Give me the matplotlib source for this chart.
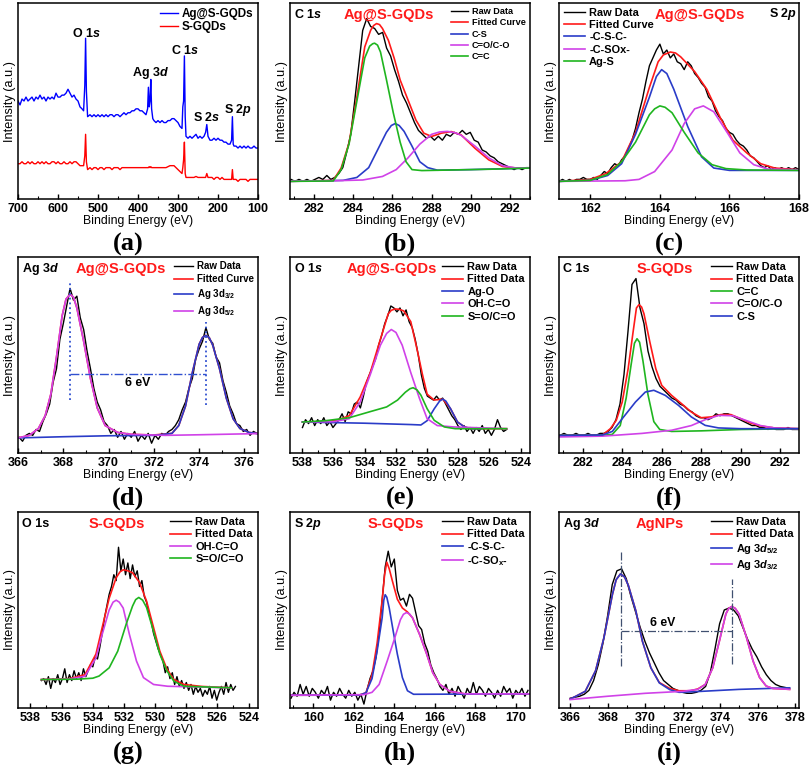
import numpy as np
import matplotlib
matplotlib.use("Agg")
import matplotlib.pyplot as plt
from matplotlib.ticker import MultipleLocator

plt.rcParams["font.family"] = ["Liberation Sans", "DejaVu Sans"]
plt.rcParams["font.weight"] = "bold"
plt.rcParams["mathtext.fontset"] = "custom"
plt.rcParams["mathtext.rm"] = "Liberation Sans:bold"
plt.rcParams["mathtext.it"] = "Liberation Sans:italic:bold"
plt.rcParams["mathtext.bf"] = "Liberation Sans:bold"
plt.rcParams["mathtext.default"] = "rm"

RED = "#ff1a1a"
BLUE = "#2a3cc8"
MAG = "#d042e8"
GREEN = "#1fb51f"

# ---------------- (a) survey ----------------
surv_E = np.r_[700:544:-5, 540, 536, 533, 531, 529, 526, 520:379:-5,
               376, 374, 372, 370, 368, 366, 363, 360:289:-5,
               288, 286, 284, 282, 280, 275:234:-5, 231, 228, 225,
               220:169:-5, 166, 164, 162, 160:99:-5]
surv_ag = [0.50, 0.48, 0.51, 0.50, 0.52, 0.50, 0.51, 0.52, 0.50, 0.52, 0.51, 0.53, 0.51, 0.52, 0.50, 0.52,
           0.51, 0.52, 0.51, 0.54, 0.52, 0.52, 0.53, 0.53, 0.54, 0.56, 0.54, 0.52, 0.53, 0.51, 0.50, 0.47,
           0.46, 0.45, 0.58, 0.82, 0.55, 0.42,
           0.43, 0.42, 0.43, 0.42, 0.43, 0.42, 0.43, 0.42, 0.43, 0.42, 0.43, 0.43, 0.42, 0.43, 0.43,
           0.42, 0.43, 0.44, 0.43, 0.44, 0.44, 0.45, 0.45, 0.46, 0.46, 0.45, 0.45, 0.44, 0.43,
           0.46, 0.57, 0.47, 0.50, 0.61, 0.46, 0.41,
           0.40, 0.39, 0.40, 0.39, 0.40, 0.39, 0.39, 0.40, 0.40, 0.41, 0.41, 0.40, 0.39, 0.37, 0.36,
           0.47, 0.50, 0.73, 0.42, 0.32,
           0.31, 0.32, 0.31, 0.32, 0.33, 0.31, 0.32, 0.31, 0.32,
           0.34, 0.38, 0.32,
           0.30, 0.30, 0.31, 0.30, 0.31, 0.30, 0.30, 0.29, 0.29, 0.28, 0.28,
           0.30, 0.42, 0.28,
           0.27, 0.27, 0.26, 0.27, 0.26, 0.27, 0.26, 0.27, 0.26, 0.26, 0.27, 0.26, 0.26]
surv_s = [0.18, 0.18, 0.19, 0.18, 0.18, 0.19, 0.18, 0.19, 0.18, 0.18, 0.19, 0.18, 0.19, 0.18, 0.19, 0.18,
          0.18, 0.19, 0.19, 0.18, 0.19, 0.18, 0.18, 0.19, 0.18, 0.18, 0.19, 0.18, 0.19, 0.19, 0.18, 0.17,
          0.17, 0.17, 0.22, 0.33, 0.19, 0.15,
          0.16, 0.15, 0.16, 0.16, 0.15, 0.16, 0.16, 0.15, 0.16, 0.16, 0.16, 0.15, 0.16, 0.16, 0.16,
          0.15, 0.16, 0.16, 0.16, 0.16, 0.16, 0.16, 0.16, 0.16, 0.16, 0.16, 0.16, 0.16, 0.16,
          0.16, 0.16, 0.165, 0.16, 0.165, 0.16, 0.16,
          0.16, 0.16, 0.16, 0.16, 0.16, 0.16, 0.16, 0.165, 0.17, 0.17, 0.17, 0.16, 0.15, 0.14, 0.13,
          0.16, 0.20, 0.29, 0.13, 0.11,
          0.11, 0.11, 0.11, 0.11, 0.115, 0.11, 0.11, 0.11, 0.11,
          0.11, 0.13, 0.11,
          0.11, 0.11, 0.10, 0.11, 0.11, 0.10, 0.11, 0.10, 0.10, 0.10, 0.10,
          0.10, 0.15, 0.10,
          0.10, 0.10, 0.09, 0.10, 0.10, 0.10, 0.10, 0.09, 0.10, 0.10, 0.10, 0.10, 0.10]
surv_peaks = ["O 1$\\mathit{s}$", "Ag 3$\\mathit{d}$", "C 1$\\mathit{s}$", "S 2$\\mathit{s}$", "S 2$\\mathit{p}$"]
surv_peak_E = [529, 369, 281.7, 227.5, 150]
surv_peak_I = [0.845, 0.645, 0.757, 0.418, 0.455]

# ---------------- (b) C 1s Ag@S-GQDs ----------------
b_raw_range = (280.85, 293.0)
b_raw = [0.10, 0.09, 0.10, 0.09, 0.10, 0.09, 0.10, 0.11, 0.10, 0.12,
         0.10, 0.11, 0.13, 0.16, 0.24, 0.33, 0.50, 0.68, 0.86, 0.92,
         0.88, 0.87, 0.84, 0.85, 0.77, 0.73, 0.66, 0.60, 0.53, 0.49,
         0.44, 0.39, 0.35, 0.33, 0.31, 0.32, 0.30, 0.32, 0.30, 0.33,
         0.32, 0.34, 0.33, 0.35, 0.33, 0.34, 0.30, 0.29, 0.25, 0.24,
         0.22, 0.21, 0.19, 0.18, 0.17, 0.16, 0.15, 0.16, 0.15, 0.16, 0.16]
b_fit = [(280.8, 0.09), (283.0, 0.095), (283.4, 0.158), (283.8, 0.285), (284.2, 0.52), (284.6, 0.776),
         (284.9, 0.861), (285.05, 0.885), (285.2, 0.895), (285.35, 0.89), (285.5, 0.87), (285.8, 0.81),
         (286.1, 0.717), (286.4, 0.607),
         (286.8, 0.505), (287.2, 0.403), (287.6, 0.336), (288.0, 0.319), (288.5, 0.336), (289.0, 0.344),
         (289.5, 0.327), (290.2, 0.259), (290.9, 0.2), (291.6, 0.166), (292.3, 0.158), (293.0, 0.158)]
b_cs = [(280.8, 0.09), (283.5, 0.095), (284.2, 0.11), (284.8, 0.16), (285.3, 0.26), (285.7, 0.34),
        (285.95, 0.375), (286.15, 0.385), (286.35, 0.375), (286.6, 0.345), (287.0, 0.27), (287.4, 0.19),
        (287.8, 0.16), (288.3, 0.147), (290.0, 0.15), (293.0, 0.158)]
b_co = [(280.8, 0.092), (283.0, 0.093), (284.5, 0.097), (285.5, 0.115), (286.2, 0.15), (286.8, 0.21),
        (287.4, 0.28), (288.0, 0.33), (288.4, 0.342), (288.8, 0.345), (289.2, 0.338), (289.5, 0.325),
        (290.2, 0.27), (290.9, 0.21), (291.6, 0.17), (292.3, 0.158), (293.0, 0.158)]
b_cc = [(280.8, 0.09), (283.0, 0.092), (283.4, 0.15), (283.8, 0.28), (284.2, 0.50), (284.6, 0.72),
        (284.85, 0.78), (285.0, 0.792), (285.1, 0.795), (285.25, 0.785), (285.4, 0.75), (285.7, 0.61),
        (286.05, 0.44), (286.4, 0.29),
        (286.7, 0.19), (287.0, 0.15), (287.5, 0.145), (289.0, 0.148), (291.0, 0.152), (293.0, 0.158)]

# ---------------- (c) S 2p Ag@S-GQDs ----------------
c_raw_range = (161.1, 168.0)
c_raw = [0.09, 0.10, 0.09, 0.10, 0.09, 0.10, 0.10, 0.11, 0.10, 0.10,
         0.11, 0.10, 0.12, 0.14, 0.13, 0.16, 0.18, 0.17, 0.20, 0.22,
         0.26, 0.30, 0.36, 0.44, 0.51, 0.60, 0.68, 0.72, 0.76, 0.79,
         0.74, 0.76, 0.72, 0.74, 0.70, 0.69, 0.66, 0.70, 0.68, 0.64,
         0.62, 0.59, 0.57, 0.52, 0.50, 0.45, 0.42, 0.40, 0.36, 0.34,
         0.33, 0.30, 0.28, 0.27, 0.25, 0.22, 0.21, 0.19, 0.17, 0.16,
         0.17, 0.15, 0.16, 0.15, 0.16, 0.15, 0.16, 0.15, 0.16, 0.15]
c_fit = [(161.1, 0.09), (162.0, 0.10), (162.45, 0.13), (162.9, 0.19), (163.3, 0.34), (163.7, 0.57),
         (163.95, 0.70), (164.1, 0.735), (164.3, 0.75), (164.45, 0.745), (164.6, 0.725), (165.0, 0.65),
         (165.35, 0.56), (165.75, 0.41),
         (166.1, 0.30), (166.5, 0.235), (166.9, 0.18), (167.3, 0.158), (168.0, 0.149)]
c_csc = [(161.1, 0.09), (162.0, 0.095), (162.5, 0.12), (162.9, 0.18), (163.3, 0.33), (163.7, 0.52),
         (163.9, 0.625), (164.05, 0.66), (164.2, 0.64), (164.4, 0.56), (164.8, 0.37), (165.2, 0.215),
         (165.55, 0.158), (166.0, 0.146), (168.0, 0.146)]
c_sox = [(161.1, 0.09), (163.0, 0.093), (163.4, 0.10), (163.85, 0.14), (164.35, 0.25), (164.7, 0.385),
         (165.0, 0.46), (165.25, 0.475), (165.55, 0.445), (165.95, 0.335), (166.3, 0.235), (166.7, 0.175),
         (167.1, 0.153), (168.0, 0.149)]
c_ags = [(161.1, 0.09), (162.0, 0.095), (162.5, 0.125), (162.9, 0.19), (163.3, 0.29), (163.7, 0.43),
         (163.85, 0.46), (164.0, 0.475), (164.15, 0.468), (164.35, 0.44), (164.7, 0.34), (165.1, 0.235),
         (165.5, 0.175), (165.9, 0.155), (166.5, 0.148), (168.0, 0.146)]

# ---------------- (d) Ag 3d Ag@S-GQDs ----------------
d_raw_range = (366.05, 376.55)
d_raw = [0.08, 0.06, 0.09, 0.10, 0.09, 0.12, 0.11, 0.16, 0.20, 0.25,
         0.36, 0.43, 0.58, 0.66, 0.75, 0.84, 0.78, 0.80, 0.69, 0.63,
         0.52, 0.43, 0.33, 0.26, 0.22, 0.16, 0.14, 0.10, 0.12, 0.08,
         0.11, 0.07, 0.10, 0.08, 0.11, 0.06, 0.09, 0.07, 0.10, 0.05,
         0.09, 0.07, 0.10, 0.09, 0.11, 0.12, 0.14, 0.17, 0.22, 0.26,
         0.33, 0.38, 0.48, 0.53, 0.57, 0.64, 0.58, 0.56, 0.49, 0.46,
         0.37, 0.31, 0.24, 0.20, 0.15, 0.14, 0.11, 0.12, 0.09, 0.11, 0.10]
d_fit = [(366.0, 0.077), (366.5, 0.09), (366.9, 0.125), (367.2, 0.19), (367.45, 0.30), (367.7, 0.49),
         (367.95, 0.70), (368.12, 0.785), (368.3, 0.81), (368.45, 0.795), (368.6, 0.74), (368.9, 0.57),
         (369.2, 0.38), (369.5, 0.23),
         (369.85, 0.14), (370.4, 0.105), (371.0, 0.095), (372.0, 0.092), (372.8, 0.10), (373.1, 0.14),
         (373.4, 0.24), (373.7, 0.41), (374.0, 0.555), (374.15, 0.59), (374.3, 0.60), (374.45, 0.588),
         (374.6, 0.55), (374.9, 0.43),
         (375.2, 0.28), (375.5, 0.175), (375.8, 0.125), (376.2, 0.105), (376.6, 0.099)]
d_32 = [(366.0, 0.077), (368.0, 0.083), (370.0, 0.088), (372.0, 0.09), (372.8, 0.10), (373.1, 0.14),
        (373.4, 0.24), (373.7, 0.41), (374.0, 0.555), (374.15, 0.59), (374.3, 0.60), (374.45, 0.588),
        (374.6, 0.55), (374.9, 0.43),
        (375.2, 0.28), (375.5, 0.175), (375.8, 0.125), (376.2, 0.105), (376.6, 0.099)]
d_52 = [(366.0, 0.077), (366.5, 0.09), (366.9, 0.125), (367.2, 0.19), (367.45, 0.30), (367.7, 0.49),
        (367.95, 0.70), (368.12, 0.785), (368.3, 0.81), (368.45, 0.795), (368.6, 0.74), (368.9, 0.57),
        (369.2, 0.38), (369.5, 0.23),
        (369.85, 0.14), (370.4, 0.105), (371.0, 0.095), (372.5, 0.09), (374.0, 0.093), (376.6, 0.099)]
d_peak_E = [368.3, 374.3]
d_peak_top = [0.88, 0.668]
d_peak_bot = [0.269, 0.243]
d_split_level = 0.405

# ---------------- (e) O 1s Ag@S-GQDs ----------------
e_raw_range = (538.0, 524.9)
e_raw = [0.13, 0.17, 0.15, 0.18, 0.14, 0.17, 0.15, 0.18, 0.14, 0.16,
         0.13, 0.15, 0.17, 0.20, 0.16, 0.21, 0.20, 0.25, 0.26, 0.23,
         0.29, 0.36, 0.40, 0.44, 0.48, 0.55, 0.60, 0.66, 0.70, 0.75,
         0.74, 0.72, 0.74, 0.70, 0.73, 0.67, 0.64, 0.58, 0.50, 0.40,
         0.33, 0.29, 0.28, 0.27, 0.29, 0.27, 0.28, 0.25, 0.22, 0.19,
         0.17, 0.14, 0.12, 0.14, 0.11, 0.13, 0.10, 0.13, 0.11, 0.14,
         0.10, 0.12, 0.09, 0.12, 0.17, 0.13, 0.11, 0.12]
e_fit = [(538.0, 0.158), (536.5, 0.16), (535.8, 0.167), (535.0, 0.19), (534.3, 0.285), (533.65, 0.41),
         (533.0, 0.58), (532.5, 0.71), (532.3, 0.728), (532.05, 0.735), (531.8, 0.733), (531.5, 0.725),
         (531.05, 0.67), (530.65, 0.53),
         (530.3, 0.40), (530.0, 0.30), (529.55, 0.27), (529.0, 0.275), (528.5, 0.226), (528.05, 0.158),
         (527.6, 0.133), (527.2, 0.124), (524.9, 0.124)]
e_ago = [(538.0, 0.158), (534.0, 0.152), (531.0, 0.145), (530.4, 0.143), (530.0, 0.165), (529.55, 0.225),
         (529.2, 0.265), (529.0, 0.275), (528.8, 0.265), (528.5, 0.226), (528.05, 0.158), (527.6, 0.133),
         (527.2, 0.124), (526.5, 0.124)]
e_ohco = [(538.0, 0.158), (536.0, 0.16), (535.0, 0.175), (534.3, 0.26), (533.65, 0.40), (533.0, 0.55),
          (532.6, 0.61), (532.3, 0.63), (532.0, 0.615), (531.6, 0.55), (531.05, 0.41), (530.5, 0.28),
          (530.0, 0.175), (529.35, 0.14), (528.3, 0.133), (524.9, 0.124)]
e_soco = [(538.0, 0.158), (536.5, 0.165), (535.0, 0.18), (533.7, 0.21), (532.6, 0.235), (531.9, 0.27),
          (531.4, 0.31), (531.1, 0.328), (530.9, 0.333), (530.65, 0.322), (530.4, 0.295), (530.0, 0.226),
          (529.55, 0.167), (528.9, 0.133), (528.2, 0.124), (524.9, 0.124)]

# ---------------- (f) C 1s S-GQDs ----------------
f_raw_range = (280.85, 293.0)
f_raw = [0.09, 0.10, 0.09, 0.09, 0.10, 0.09, 0.09, 0.10, 0.09, 0.09,
         0.10, 0.10, 0.11, 0.13, 0.17, 0.25, 0.40, 0.62, 0.86, 0.89,
         0.74, 0.66, 0.52, 0.44, 0.38, 0.34, 0.32, 0.30, 0.28, 0.27,
         0.25, 0.24, 0.22, 0.21, 0.19, 0.18, 0.18, 0.17, 0.18, 0.20,
         0.19, 0.20, 0.20, 0.19, 0.18, 0.17, 0.16, 0.15, 0.14, 0.14,
         0.13, 0.13, 0.12, 0.13, 0.12, 0.12, 0.12, 0.13, 0.12, 0.12, 0.12]
f_fit = [(280.8, 0.09), (283.0, 0.092), (283.4, 0.124), (283.7, 0.167), (284.0, 0.26), (284.3, 0.43),
         (284.55, 0.617), (284.72, 0.74), (284.85, 0.757), (284.98, 0.745), (285.1, 0.711), (285.4, 0.566),
         (285.7, 0.43), (286.0, 0.345),
         (286.5, 0.294), (287.0, 0.252), (287.5, 0.209), (288.0, 0.18), (288.5, 0.184), (289.0, 0.196),
         (289.5, 0.196), (290.0, 0.175), (290.5, 0.153), (291.0, 0.138), (291.7, 0.128), (292.95, 0.124)]
f_cc = [(280.8, 0.09), (283.0, 0.09), (283.5, 0.095), (283.9, 0.14), (284.2, 0.28), (284.45, 0.45),
        (284.62, 0.56), (284.75, 0.583), (284.88, 0.565), (285.05, 0.47), (285.3, 0.30), (285.6, 0.16),
        (285.9, 0.12), (286.5, 0.11), (288.0, 0.113), (290.0, 0.12), (292.95, 0.124)]
f_co = [(280.8, 0.082), (283.0, 0.086), (285.0, 0.10), (286.5, 0.116), (287.5, 0.14), (288.2, 0.17),
        (288.9, 0.192), (289.6, 0.19), (290.3, 0.165), (291.0, 0.14), (291.7, 0.128), (292.95, 0.124)]
f_cs = [(280.8, 0.09), (283.0, 0.092), (283.5, 0.11), (284.0, 0.175), (284.67, 0.26), (285.17, 0.311),
        (285.6, 0.32), (286.18, 0.294), (286.85, 0.243), (287.5, 0.184), (288.2, 0.141), (288.87, 0.128),
        (290.0, 0.124), (292.95, 0.124)]

# ---------------- (g) O 1s S-GQDs ----------------
g_raw_range = (537.3, 524.85)
g_raw = [0.14, 0.15, 0.12, 0.16, 0.10, 0.15, 0.13, 0.17, 0.12, 0.15,
         0.20, 0.13, 0.17, 0.14, 0.19, 0.15, 0.18, 0.14, 0.20, 0.16,
         0.19, 0.22, 0.21, 0.26, 0.25, 0.31, 0.38, 0.46, 0.52, 0.58,
         0.62, 0.68, 0.65, 0.82, 0.70, 0.76, 0.68, 0.74, 0.66, 0.73,
         0.67, 0.70, 0.62, 0.65, 0.57, 0.54, 0.48, 0.44, 0.38, 0.34,
         0.30, 0.27, 0.24, 0.18, 0.21, 0.15, 0.18, 0.12, 0.16, 0.11,
         0.14, 0.10, 0.13, 0.09, 0.12, 0.07, 0.11, 0.08, 0.10, 0.06,
         0.09, 0.07, 0.11, 0.05, 0.09, 0.04, 0.08, 0.11, 0.07, 0.13,
         0.08, 0.12, 0.09, 0.11]
g_fit = [(537.3, 0.145), (535.5, 0.15), (534.5, 0.17), (533.8, 0.275), (533.4, 0.41), (532.95, 0.56),
         (532.5, 0.665), (532.25, 0.695), (532.05, 0.705), (531.75, 0.70), (531.45, 0.69), (531.0, 0.64),
         (530.55, 0.545), (530.1, 0.41),
         (529.7, 0.29), (529.25, 0.20), (528.8, 0.145), (528.15, 0.12), (527.0, 0.11), (525.1, 0.103)]
g_ohco = [(537.3, 0.145), (535.5, 0.148), (534.5, 0.162), (533.8, 0.255), (533.4, 0.375), (532.95, 0.50),
          (532.7, 0.54), (532.5, 0.55), (532.3, 0.54), (532.05, 0.51), (531.65, 0.375), (531.2, 0.24),
          (530.75, 0.155), (530.1, 0.12), (529.2, 0.111), (525.1, 0.103)]
g_soco = [(537.3, 0.145), (535.0, 0.147), (534.0, 0.152), (533.6, 0.163), (532.95, 0.205), (532.4, 0.29),
          (531.85, 0.43), (531.45, 0.52), (531.25, 0.553), (531.05, 0.564), (530.8, 0.55), (530.55, 0.513),
          (530.1, 0.39), (529.7, 0.275), (529.25, 0.19), (528.8, 0.137), (528.15, 0.111), (525.1, 0.103)]

# ---------------- (h) S 2p S-GQDs ----------------
h_raw_range = (158.9, 170.6)
h_raw = [0.05, 0.08, 0.06, 0.12, 0.07, 0.11, 0.06, 0.10, 0.08, 0.05,
         0.09, 0.07, 0.11, 0.04, 0.08, 0.06, 0.10, 0.07, 0.05, 0.09,
         0.06, 0.08, 0.04, 0.07, 0.02, 0.09, 0.15, 0.19, 0.26, 0.38,
         0.55, 0.72, 0.80, 0.72, 0.76, 0.60, 0.55, 0.56, 0.52, 0.58,
         0.56, 0.49, 0.42, 0.40, 0.33, 0.29, 0.22, 0.18, 0.15, 0.11,
         0.09, 0.12, 0.07, 0.10, 0.06, 0.11, 0.08, 0.05, 0.10, 0.07,
         0.13, 0.07, 0.11, 0.09, 0.06, 0.10, 0.08, 0.05, 0.09, 0.06,
         0.11, 0.08, 0.10, 0.05, 0.09, 0.07, 0.10, 0.06, 0.09]
h_fit = [(158.85, 0.065), (162.3, 0.066), (162.6, 0.078), (162.9, 0.17), (163.15, 0.33), (163.4, 0.55),
         (163.52, 0.68), (163.63, 0.744), (163.75, 0.71), (163.9, 0.65), (164.15, 0.555), (164.4, 0.51),
         (164.65, 0.49), (164.9, 0.46),
         (165.25, 0.375), (165.6, 0.275), (165.9, 0.18), (166.25, 0.12), (166.75, 0.085), (167.5, 0.072),
         (170.7, 0.072)]
h_csc = [(158.85, 0.065), (162.3, 0.066), (162.6, 0.078), (162.9, 0.15), (163.15, 0.29), (163.4, 0.46),
         (163.48, 0.55), (163.55, 0.578), (163.63, 0.565), (163.75, 0.51), (163.95, 0.39), (164.15, 0.275),
         (164.4, 0.155), (164.65, 0.088), (164.95, 0.07), (170.7, 0.072)]
h_sox = [(158.85, 0.065), (162.5, 0.068), (162.9, 0.08), (163.25, 0.12), (163.65, 0.24), (164.0, 0.35),
         (164.3, 0.45), (164.45, 0.478), (164.6, 0.487), (164.75, 0.48), (164.9, 0.46), (165.25, 0.375),
         (165.6, 0.275), (165.9, 0.18), (166.25, 0.12), (166.75, 0.085), (167.5, 0.072), (170.7, 0.072)]

# ---------------- (i) Ag 3d AgNPs ----------------
i_raw_range = (366.0, 377.7)
i_raw = [0.05, 0.055, 0.06, 0.07, 0.09, 0.14, 0.22, 0.33, 0.47, 0.63,
         0.70, 0.71, 0.66, 0.57, 0.49, 0.41, 0.34, 0.28, 0.23, 0.18,
         0.14, 0.12, 0.10, 0.09, 0.08, 0.075, 0.075, 0.08, 0.09, 0.11,
         0.18, 0.30, 0.43, 0.50, 0.51, 0.50, 0.47, 0.41, 0.35, 0.30,
         0.26, 0.21, 0.17, 0.14, 0.12, 0.11, 0.105, 0.10]
i_fit = [(366.0, 0.046), (366.3, 0.06), (366.8, 0.085), (367.35, 0.19), (367.8, 0.36), (368.25, 0.58),
         (368.45, 0.655), (368.68, 0.684), (368.9, 0.668), (369.1, 0.625), (369.5, 0.495), (369.85, 0.34),
         (370.3, 0.205), (370.75, 0.13),
         (371.3, 0.1), (371.8, 0.088), (372.4, 0.088), (372.8, 0.097), (373.2, 0.12), (373.6, 0.205),
         (373.95, 0.34), (374.3, 0.48), (374.45, 0.508), (374.62, 0.518), (374.8, 0.508), (375.0, 0.48),
         (375.4, 0.36), (375.75, 0.24),
         (376.1, 0.155), (376.45, 0.112), (376.8, 0.1), (377.7, 0.095)]
i_52 = [(366.0, 0.046), (366.3, 0.06), (366.8, 0.085), (367.35, 0.19), (367.8, 0.36), (368.25, 0.58),
        (368.45, 0.655), (368.68, 0.684), (368.9, 0.668), (369.1, 0.625), (369.5, 0.495), (369.85, 0.34),
        (370.3, 0.205), (370.75, 0.128),
        (371.3, 0.094), (371.8, 0.08), (373.0, 0.085), (375.0, 0.095), (377.7, 0.103)]
i_32 = [(366.0, 0.043), (368.0, 0.06), (370.0, 0.075), (372.0, 0.085), (372.8, 0.095), (373.2, 0.12),
        (373.6, 0.205), (373.95, 0.34), (374.3, 0.48), (374.45, 0.508), (374.62, 0.518), (374.8, 0.508),
        (375.0, 0.48), (375.4, 0.36),
        (375.75, 0.24), (376.1, 0.155), (376.45, 0.112), (376.8, 0.1), (377.7, 0.095)]
i_peak_E = [368.7, 374.6]
i_peak_top = [0.807, 0.658]
i_peak_bot = [0.214, 0.222]
i_split_level = 0.393

# ---------------- layout ----------------
W, H = 810, 765
fig = plt.figure(figsize=(W / 100, H / 100), dpi=100)
col_left = [18, 290, 559]
row_top = [3, 257, 512]
AW, AH = 240, 196


def make_ax(r, c):
    return fig.add_axes([col_left[c] / W, 1 - (row_top[r] + AH) / H, AW / W, AH / H])


def style(ax, xlim, major, minor, letter):
    ax.set_xlim(*xlim)
    ax.set_ylim(0, 1)
    ax.set_yticks([])
    ax.xaxis.set_major_locator(MultipleLocator(major))
    ax.xaxis.set_minor_locator(MultipleLocator(minor))
    ax.tick_params(axis="x", which="major", direction="in", length=3.5, width=1.0, pad=3, labelsize=9)
    ax.tick_params(axis="x", which="minor", direction="in", length=2.0, width=0.8)
    ax.set_xlabel("Binding Energy (eV)", fontsize=8.8, labelpad=0.2)
    ax.set_ylabel("Intensity (a.u.)", fontsize=9.2, labelpad=1.5)
    for s in ax.spines.values():
        s.set_linewidth(1.1)
    ax.text(0.46, -0.232, f"({letter})", transform=ax.transAxes, ha="center", va="center",
            fontsize=19, fontweight="bold", family="Liberation Serif")


def raw(ax, rng, vals, label="Raw Data"):
    ax.plot(np.linspace(rng[0], rng[1], len(vals)), vals, color="black", lw=1.0, label=label)


def curve(ax, pts, color, label):
    e, v = zip(*pts)
    ax.plot(e, v, color=color, lw=1.2, label=label)


def leg(ax, size, loc="upper right", spacing=0.25):
    ax.legend(loc=loc, frameon=False, fontsize=size, handlelength=1.9, handletextpad=0.4,
              labelspacing=spacing, borderaxespad=0.15, borderpad=0.3)


def heads(ax, left, title, tx, right=False):
    if right:
        ax.text(0.99, 0.945, left, transform=ax.transAxes, ha="right", va="center", fontsize=9)
    else:
        ax.text(0.015, 0.94, left, transform=ax.transAxes, ha="left", va="center", fontsize=9)
    ax.text(tx, 0.94, title, transform=ax.transAxes, ha="center", va="center", fontsize=10.5, color=RED)


# (a)
ax = make_ax(0, 0)
ax.plot(surv_E, surv_ag, color="#0000ff", lw=1.0, label="Ag@S-GQDs")
ax.plot(surv_E, surv_s, color="#ff0000", lw=1.0, label="S-GQDs")
for t, e, v in zip(surv_peaks, surv_peak_E, surv_peak_I):
    ax.text(e, v, t, ha="center", va="center", fontsize=9)
style(ax, (700, 100), 100, 50, "a")
ax.legend(loc="upper right", frameon=False, fontsize=8.4, handlelength=1.6, handletextpad=0.3,
          labelspacing=0.15, borderaxespad=0.1, borderpad=0.3)

# (b)
ax = make_ax(0, 1)
raw(ax, b_raw_range, b_raw)
curve(ax, b_fit, RED, "Fitted Curve")
curve(ax, b_cs, BLUE, "C-S")
curve(ax, b_co, MAG, "C=O/C-O")
curve(ax, b_cc, GREEN, "C=C")
style(ax, (280.8, 293.0), 2, 1, "b")
heads(ax, "C 1$\\mathit{s}$", "Ag@S-GQDs", 0.41)
leg(ax, 6.6)

# (c)
ax = make_ax(0, 2)
raw(ax, c_raw_range, c_raw)
curve(ax, c_fit, RED, "Fitted Curve")
curve(ax, c_csc, BLUE, "-C-S-C-")
curve(ax, c_sox, MAG, "-C-SOx-")
curve(ax, c_ags, GREEN, "Ag-S")
style(ax, (161.1, 168.0), 2, 1, "c")
heads(ax, "S 2$\\mathit{p}$", "Ag@S-GQDs", 0.586, right=True)
leg(ax, 7.9, loc="upper left", spacing=0.2)

# (d)
ax = make_ax(1, 0)
raw(ax, d_raw_range, d_raw)
curve(ax, d_fit, RED, "Fitted Curve")
curve(ax, d_32, BLUE, "Ag 3d$_{3/2}$")
curve(ax, d_52, MAG, "Ag 3d$_{5/2}$")
ax.vlines(d_peak_E, d_peak_bot, d_peak_top, colors="#3050d0", linestyles=":", lw=1.3)
ax.hlines(d_split_level, d_peak_E[0], d_peak_E[1], colors="#3050d0", linestyles="-.", lw=1.0)
ax.text(sum(d_peak_E) / 2, d_split_level - 0.05, "6 eV", ha="center", va="center", fontsize=8.8)
style(ax, (366.0, 376.6), 2, 1, "d")
heads(ax, "Ag 3$\\mathit{d}$", "Ag@S-GQDs", 0.43)
leg(ax, 7.0, spacing=0.3)

# (e)
ax = make_ax(1, 1)
raw(ax, e_raw_range, e_raw)
curve(ax, e_fit, RED, "Fitted Data")
curve(ax, e_ago, BLUE, "Ag-O")
curve(ax, e_ohco, MAG, "OH-C=O")
curve(ax, e_soco, GREEN, "S=O/C=O")
style(ax, (538.8, 523.4), 2, 1, "e")
heads(ax, "O 1$\\mathit{s}$", "Ag@S-GQDs", 0.425)
leg(ax, 7.9, spacing=0.22)

# (f)
ax = make_ax(1, 2)
raw(ax, f_raw_range, f_raw)
curve(ax, f_fit, RED, "Fitted Data")
curve(ax, f_cc, GREEN, "C=C")
curve(ax, f_co, MAG, "C=O/C-O")
curve(ax, f_cs, BLUE, "C-S")
style(ax, (280.8, 292.95), 2, 1, "f")
heads(ax, "C 1s", "S-GQDs", 0.44)
leg(ax, 7.9, spacing=0.22)

# (g)
ax = make_ax(2, 0)
raw(ax, g_raw_range, g_raw)
curve(ax, g_fit, RED, "Fitted Data")
curve(ax, g_ohco, MAG, "OH-C=O")
curve(ax, g_soco, GREEN, "S=O/C=O")
style(ax, (538.8, 523.4), 2, 1, "g")
heads(ax, "O 1s", "S-GQDs", 0.41)
leg(ax, 7.9, spacing=0.22)

# (h)
ax = make_ax(2, 1)
raw(ax, h_raw_range, h_raw)
curve(ax, h_fit, RED, "Fitted Data")
curve(ax, h_csc, BLUE, "-C-S-C-")
curve(ax, h_sox, MAG, "-C-SO$_\\mathrm{x}$-")
style(ax, (158.85, 170.7), 2, 1, "h")
heads(ax, "S 2$\\mathit{p}$", "S-GQDs", 0.44)
leg(ax, 7.9, spacing=0.22)

# (i)
ax = make_ax(2, 2)
raw(ax, i_raw_range, i_raw)
curve(ax, i_fit, RED, "Fitted Data")
curve(ax, i_52, BLUE, "Ag 3$\\mathit{d}_{5/2}$")
curve(ax, i_32, MAG, "Ag 3$\\mathit{d}_{3/2}$")
ax.vlines(i_peak_E, i_peak_bot, i_peak_top, colors="#405070", linestyles="-.", lw=0.9)
ax.hlines(i_split_level, i_peak_E[0], i_peak_E[1], colors="#405070", linestyles="-.", lw=0.9)
ax.text(sum(i_peak_E) / 2 - 0.7, i_split_level + 0.04, "6 eV", ha="center", va="center", fontsize=8.8)
style(ax, (365.4, 378.2), 2, 1, "i")
heads(ax, "Ag 3$\\mathit{d}$", "AgNPs", 0.42)
leg(ax, 7.9, spacing=0.22)

fig.savefig("out.png", dpi=100)
